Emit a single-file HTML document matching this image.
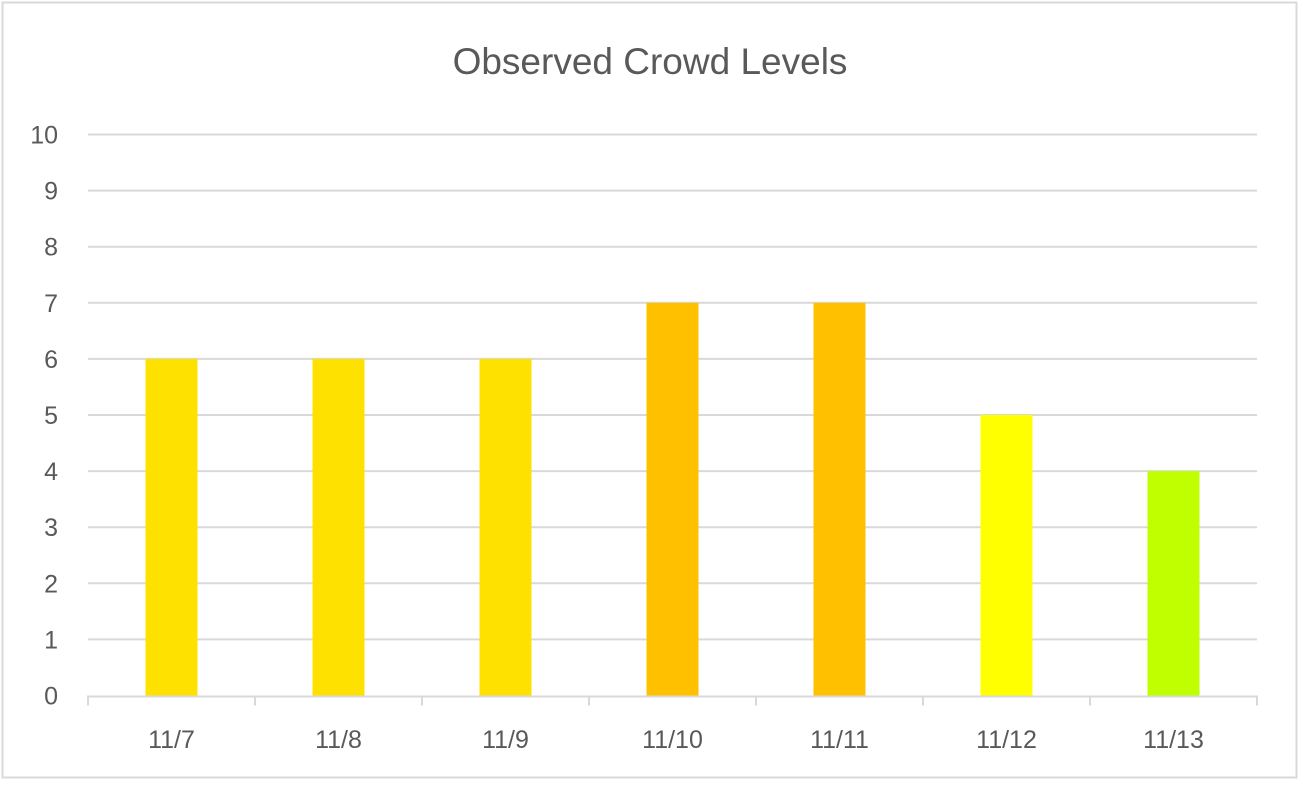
<!DOCTYPE html>
<html><head><meta charset="utf-8"><style>
body{margin:0;background:#fff;}
svg text{font-family:"Liberation Sans",sans-serif;fill:#595959;}
</style></head><body>
<svg id="chart" width="1299" height="781" xmlns="http://www.w3.org/2000/svg">
<rect x="2.5" y="2.5" width="1294" height="775" fill="#fff" stroke="#d9d9d9" stroke-width="2"/>
<text x="650" y="74" font-size="37" text-anchor="middle">Observed Crowd Levels</text>
<g id="grid"></g><g id="bars"></g><g id="axes"></g>
</svg>
<script>
const categories=["11/7","11/8","11/9","11/10","11/11","11/12","11/13"];
const values=[6,6,6,7,7,5,4];
const colors=["#FFE100","#FFE100","#FFE100","#FFC000","#FFC000","#FFFF00","#C0FF00"];
const yTicks=[0,1,2,3,4,5,6,7,8,9,10];
const NS="http://www.w3.org/2000/svg";
const x0=88,x1=1257,y0=695.5,yTop=134.5,yMax=10;
const y=v=>y0-(y0-yTop)*v/yMax;
const band=(x1-x0)/categories.length;
const bw=52;
function mk(t,a,p){const e=document.createElementNS(NS,t);for(const k in a)e.setAttribute(k,a[k]);p.appendChild(e);return e;}
const grid=document.getElementById('grid'),bars=document.getElementById('bars'),axes=document.getElementById('axes');
yTicks.forEach(t=>{
  if(t>0){const l=mk('line',{x1:x0,x2:x1,y1:y(t),y2:y(t),stroke:'#d9d9d9','stroke-width':2},grid);
  
  }
  const tx=mk('text',{x:58,y:y(t)+9,'font-size':25,'text-anchor':'end'},axes);tx.textContent=t;
  
  
});
categories.forEach((c,i)=>{
  const cx=x0+band*(i+0.5);
  const r=mk('rect',{x:cx-bw/2,y:y(values[i]),width:bw,height:y0-y(values[i]),fill:colors[i]},bars);
  
  
  const tx=mk('text',{x:cx,y:748,'font-size':25,'text-anchor':'middle'},axes);tx.textContent=c;
  
  
});
const ax=mk('line',{x1:x0,x2:x1,y1:y0+1,y2:y0+1,stroke:'#d9d9d9','stroke-width':2},axes);


for(let i=0;i<=categories.length;i++){
  const xx=x0+band*i;
  const tk=mk('line',{x1:xx,x2:xx,y1:y0,y2:y0+10,stroke:'#d9d9d9','stroke-width':2},axes);
  
  
}
</script>
</body></html>
